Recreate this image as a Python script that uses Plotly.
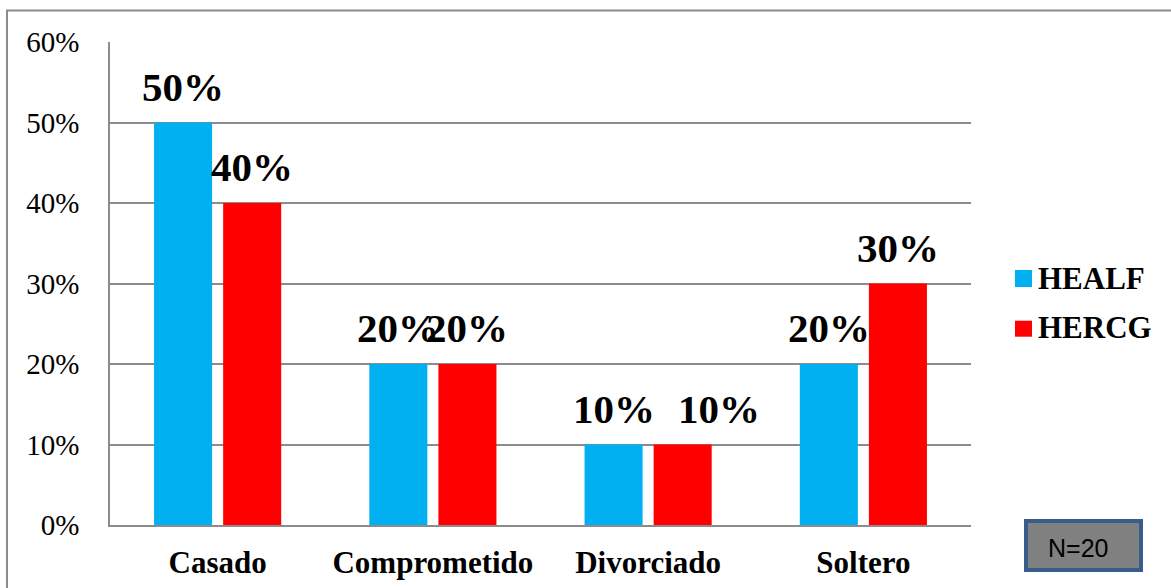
import plotly.graph_objects as go

# Estado civil por grupo
categorias = ["Casado", "Comprometido", "Divorciado", "Soltero"]
healf = [0.50, 0.20, 0.10, 0.20]
hercg = [0.40, 0.20, 0.10, 0.30]
series = [("HEALF", healf, "#00B0F0"), ("HERCG", hercg, "#FF0000")]
y_ticks = [0, 0.1, 0.2, 0.3, 0.4, 0.5, 0.6]
y_labels = ["0%", "10%", "20%", "30%", "40%", "50%", "60%"]
nota = "N=20"

W, H = 1171, 588
L, R, T, B = 110, 200, 42, 63
PW, PH = W - L - R, H - T - B


def px(x):
    return (x - L) / PW


def py(y):
    return (H - B - y) / PH


serif = "Liberation Serif, Times New Roman, serif"

fig = go.Figure()
for name, vals, color in series:
    fig.add_trace(go.Bar(x=categorias, y=vals, name=name, marker_color=color,
                         marker_line_width=0, showlegend=False))

# value labels above each bar (the Divorciado HERCG label is nudged right)
slot_half = PW / len(categorias) * (1 - 0.358) / 2 / 2
label_nudge = {("HERCG", "Divorciado"): 36}
annotations = []
for i, (name, vals, color) in enumerate(series):
    shift = -slot_half if i == 0 else slot_half
    for c, v in zip(categorias, vals):
        annotations.append(dict(x=c, y=v, xref="x", yref="y", text=f"{v*100:.0f}%",
                                showarrow=False, xshift=shift + label_nudge.get((name, c), 0),
                                yanchor="middle", yshift=36,
                                font=dict(family=serif, size=41, color="black", weight="bold")))

# legend
shapes = []
leg_rows = [(270, 287, 278), (320.7, 336.7, 328)]
for (name, vals, color), (y0, y1, yc) in zip(series, leg_rows):
    shapes.append(dict(type="rect", xref="paper", yref="paper", x0=px(1015), x1=px(1032),
                       y0=py(y1), y1=py(y0), fillcolor=color, line_width=0))
    annotations.append(dict(x=px(1036), y=py(yc), xref="paper", yref="paper", text=name,
                            showarrow=False, xanchor="left", yanchor="middle",
                            font=dict(family=serif, size=31, color="black", weight="bold")))

# sample-size box
shapes.append(dict(type="rect", xref="paper", yref="paper", x0=px(1026), x1=px(1141),
                   y0=py(570), y1=py(521), fillcolor="#808080",
                   line=dict(color="#385D8A", width=4)))
annotations.append(dict(x=px(1078), y=py(548), xref="paper", yref="paper", text=nota,
                        showarrow=False, xanchor="center", yanchor="middle",
                        font=dict(family="Liberation Sans, Arial, sans-serif", size=25, color="black")))

# chart frame
shapes.append(dict(type="rect", xref="paper", yref="paper", x0=px(7), x1=px(1200),
                   y0=py(620), y1=py(10.5), line=dict(color="#8C8C8C", width=2),
                   fillcolor="rgba(0,0,0,0)", layer="below"))

fig.update_layout(
    width=W, height=H,
    margin=dict(l=L, r=R, t=T, b=B, autoexpand=False),
    paper_bgcolor="white", plot_bgcolor="white",
    barmode="group", bargap=0.358, bargroupgap=0.16,
    shapes=shapes, annotations=annotations,
    showlegend=False,
)
fig.update_xaxes(showgrid=False, showline=True, linecolor="#8C8C8C", linewidth=1.5,
                 ticks="", ticklabelstandoff=9, automargin=False,
                 tickfont=dict(family=serif, size=31, color="black", weight="bold"))
fig.update_yaxes(range=[0, 0.6], tickvals=y_ticks, ticktext=y_labels,
                 showgrid=True, gridcolor="#8C8C8C", gridwidth=1.5,
                 showline=True, linecolor="#8C8C8C", linewidth=1.5,
                 ticks="", ticklabelstandoff=23, zeroline=False, automargin=False,
                 tickfont=dict(family=serif, size=29, color="black"))

fig.write_html("out.html")
